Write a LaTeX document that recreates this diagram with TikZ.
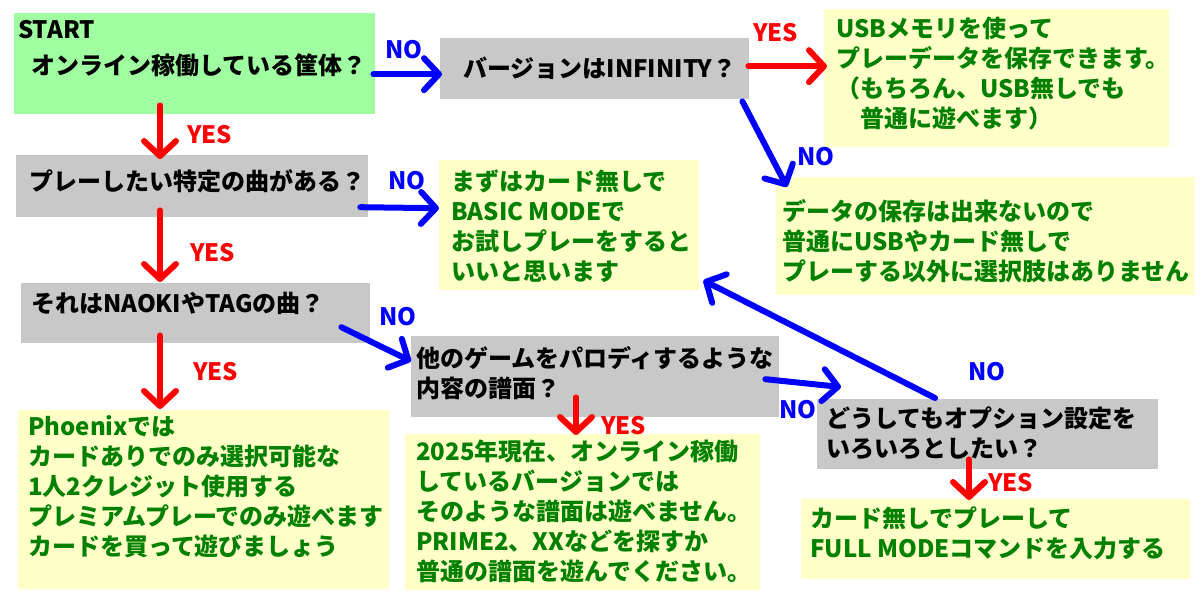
\documentclass[tikz,border=0pt]{standalone}
\usepackage{fontspec}
\setmainfont{Noto Sans CJK JP}
\usepackage{xcolor}
\usetikzlibrary{arrows.meta}

\definecolor{startgreen}{RGB}{160,255,160}
\definecolor{qgray}{RGB}{200,200,200}
\definecolor{ansyellow}{RGB}{255,255,200}
\definecolor{ansgreen}{RGB}{0,128,0}

\begin{document}
\begin{tikzpicture}[x=1pt, y=-1pt,
        box/.style={rectangle, inner sep=0pt, anchor=north west},
        qbox/.style={box, fill=qgray},
        ansbox/.style={box, fill=ansyellow},
        txt/.style={anchor=north west, inner sep=0pt, align=left, font=\fontsize{24}{30}\selectfont\bfseries, execute at begin node=\strut},
        qtxt/.style={txt, text=black},
        anstxt/.style={txt, text=ansgreen},
        lbl/.style={anchor=base west, inner sep=0pt, font=\fontsize{24}{30}\selectfont\bfseries},
        yeslbl/.style={lbl, text=red},
        nolbl/.style={lbl, text=blue},
        arr/.style={line width=6pt, line cap=round, -{Straight Barb[length=15pt,width=32pt,round]}},
        yesarr/.style={arr, draw=red},
        noarr/.style={arr, draw=blue}]
            \useasboundingbox (0,0) rectangle (1200,600);

            % boxes
            \node[box, fill=startgreen, minimum width=361, minimum height=101] (q0) at (14, 13) {};
            \node[qbox, minimum width=309, minimum height=61] (q1) at (440, 38) {};
            \node[qbox, minimum width=352, minimum height=62] (q2) at (16, 155) {};
            \node[qbox, minimum width=349, minimum height=60] (q3) at (21, 283) {};
            \node[qbox, minimum width=368, minimum height=81] (q4) at (411, 336) {};
            \node[qbox, minimum width=341, minimum height=70] (q5) at (817, 399) {};

            \node[ansbox, minimum width=345, minimum height=138] (a1) at (824, 9) {};
            \node[ansbox, minimum width=418, minimum height=118] (a2) at (776, 177) {};
            \node[ansbox, minimum width=260, minimum height=130] (a3) at (439, 160) {};
            \node[ansbox, minimum width=371, minimum height=179] (a4) at (18, 410) {};
            \node[ansbox, minimum width=355, minimum height=156] (a5) at (405, 434) {};
            \node[ansbox, minimum width=389, minimum height=80] (a6) at (801, 499) {};

            % YES
            \draw[yesarr] ([xshift=146pt,yshift=9pt]q0.south west) -- ([xshift=144pt,yshift=-4pt]q2.north west);
            \draw[yesarr] ([xshift=144pt,yshift=7pt]q2.south west) -- ([xshift=139pt,yshift=1pt]q3.north west);
            \draw[yesarr] ([xshift=139pt,yshift=8pt]q3.south west) -- ([xshift=142pt,yshift=1pt]a4.north west);
            \draw[yesarr] ([xshift=165pt,yshift=20pt]q4.south west) -- ([xshift=171pt,yshift=-1pt]a5.north west);
            \draw[yesarr] ([xshift=152pt,yshift=10pt]q5.south west) -- ([xshift=168pt,yshift=-1pt]a6.north west);
            \draw[yesarr] ([xshift=-1pt,yshift=2.5pt]q1.east) -- ([xshift=3pt,yshift=12pt]a1.west);

            % NO
            \draw[noarr] ([xshift=-2pt,yshift=-10.5pt]q0.east) -- ([xshift=2pt,yshift=-5.5pt]q1.west);
            \draw[noarr] ([xshift=-8pt,yshift=-21pt]q2.east) -- ([yshift=17pt]a3.west);
            \draw[noarr] ([xshift=-7pt,yshift=-2pt]q1.south east) -- ([xshift=11pt,yshift=-10pt]a2.north west);
            \draw[noarr] ([xshift=-29pt,yshift=-14pt]q3.east) -- ([yshift=15.5pt]q4.west);
            \draw[noarr] ([xshift=-14pt,yshift=-2.5pt]q4.east) -- ([xshift=24pt,yshift=12pt]q5.north west);
            \draw[noarr] ([xshift=118pt,yshift=1pt]q5.north west) -- ([xshift=4pt,yshift=10pt]a3.south east);

            \node[yeslbl] (y1) at (187, 143) {YES};
            \node[yeslbl] (y2) at (190, 261.5) {YES};
            \node[yeslbl] (y3) at (193, 380) {YES};
            \node[yeslbl] (y4) at (601, 434) {YES};
            \node[yeslbl] (y5) at (988, 491.5) {YES};
            \node[yeslbl] (y6) at (753, 41.5) {YES};

            \node[nolbl] (n1) at (385, 58.5) {NO};
            \node[nolbl] (n2) at (388, 189) {NO};
            \node[nolbl] (n3) at (797, 165) {NO};
            \node[nolbl] (n4) at (379, 325.5) {NO};
            \node[nolbl] (n5) at (779, 418) {NO};
            \node[nolbl] (n6) at (968, 380) {NO};

            % questions
            \node[qtxt] (q0txt) at (18, 20) {START\\[6pt]\hspace*{13pt}オンライン稼働している筐体？};
            \node[qtxt] (q1txt) at (463, 56.5) {バージョンはINFINITY？};
            \node[qtxt] (q2txt) at (29, 169) {プレーしたい特定の曲がある？};
            \node[qtxt] (q3txt) at (31, 291) {それはNAOKIやTAGの曲？};
            \node[qtxt] (q4txt) at (416, 346.5) {他のゲームをパロディするような\\内容の譜面？};
            \node[qtxt] (q5txt) at (826, 406.5) {どうしてもオプション設定を\\いろいろとしたい？};

            % answers
            \node[anstxt] (a1txt) at (836, 16.5) {USBメモリを使って\\プレーデータを保存できます。\\（もちろん、USB無しでも\\　普通に遊べます）};
            \node[anstxt] (a2txt) at (782, 199) {データの保存は出来ないので\\普通にUSBやカード無しで\\プレーする以外に選択肢はありません};
            \node[anstxt] (a3txt) at (451, 170) {まずはカード無しで\\BASIC MODEで\\お試しプレーをすると\\いいと思います};
            \node[anstxt] (a4txt) at (28, 415) {Phoenixでは\\カードありでのみ選択可能な\\1人2クレジット使用する\\プレミアムプレーでのみ遊べます\\カードを買って遊びましょう};
            \node[anstxt] (a5txt) at (416, 440) {2025年現在、オンライン稼働\\しているバージョンでは\\そのような譜面は遊べません。\\PRIME2、XXなどを探すか\\普通の譜面を遊んでください。};
            \node[anstxt] (a6txt) at (810, 507) {カード無しでプレーして\\FULL MODEコマンドを入力する};
\end{tikzpicture}
\end{document}
